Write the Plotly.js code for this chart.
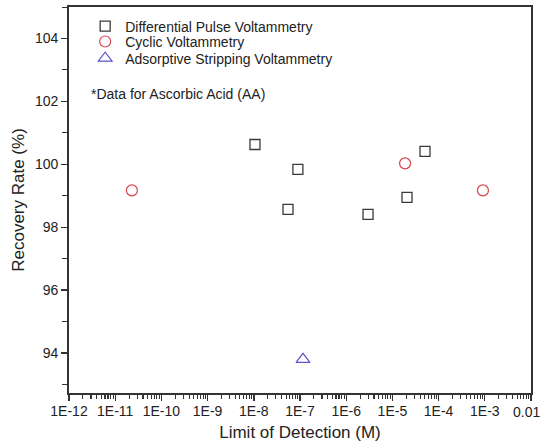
<!DOCTYPE html>
<html>
<head>
<meta charset="utf-8">
<script src="https://cdn.plot.ly/plotly-3.0.1.min.js"></script>
<style>html,body{margin:0;padding:0;background:#fff;}#chart{width:543px;height:442px;}</style>
</head>
<body>
<div id="chart"></div>
<script>
// Differential Pulse Voltammetry
const dpvLOD = [1.06e-8, 9.0e-8, 5.5e-8, 2.97e-6, 2.07e-5, 5.08e-5];
const dpvRecovery = [100.63, 99.84, 98.57, 98.41, 98.95, 100.41];
// Cyclic Voltammetry
const cvLOD = [2.3e-11, 1.88e-5, 9.1e-4];
const cvRecovery = [99.17, 100.03, 99.17];
// Adsorptive Stripping Voltammetry
const asvLOD = [1.16e-7];
const asvRecovery = [93.8];

const xTickVals = [1e-12, 1e-11, 1e-10, 1e-9, 1e-8, 1e-7, 1e-6, 1e-5, 1e-4, 1e-3, 1e-2];
const xTickText = ["1E-12", "1E-11", "1E-10", "1E-9", "1E-8", "1E-7", "1E-6", "1E-5", "1E-4", "1E-3", "0.01"];
const yTickVals = [94, 96, 98, 100, 102, 104];

// all x tick positions: majors plus minor log ticks (2..9 within each decade)
const xAllVals = [];
const xAllText = [];
for (let d = 0; d < xTickVals.length; d++) {
  xAllVals.push(xTickVals[d]);
  xAllText.push(d === xTickVals.length - 1 ? "" : xTickText[d]);
  if (d < xTickVals.length - 1) {
    for (let m = 2; m <= 9; m++) { xAllVals.push(m * xTickVals[d]); xAllText.push(""); }
  }
}

const font = "Liberation Sans, Arial, sans-serif";
const axisColor = "#333";
const textColor = "#222";

const traces = [
  {x: dpvLOD, y: dpvRecovery, mode: "markers", type: "scatter", name: "Differential Pulse Voltammetry",
   legend: "legend",
   marker: {symbol: "square-open", size: 10, color: "#3a3a3a", line: {width: 1.3}}},
  {x: cvLOD, y: cvRecovery, mode: "markers", type: "scatter", name: "Cyclic Voltammetry",
   legend: "legend2",
   marker: {symbol: "circle-open", size: 11, color: "#d8434e", line: {width: 1.2}}},
  {x: asvLOD, y: asvRecovery, mode: "markers", type: "scatter", name: "Adsorptive Stripping Voltammetry",
   legend: "legend3",
   marker: {symbol: "triangle-up-open", size: 12, color: "#5a55c8", line: {width: 1.2}}},
  // invisible trace carrying the major-tick overlay axis
  {x: [1e-12], y: [100], xaxis: "x2", yaxis: "y", mode: "markers", type: "scatter",
   marker: {opacity: 0}, showlegend: false, hoverinfo: "skip"}
];

function legendAt(y) {
  return {x: 0.035, y: y, xanchor: "left", yanchor: "top", bgcolor: "rgba(0,0,0,0)",
          font: {family: font, size: 14, color: textColor}, itemwidth: 30};
}

const layout = {
  width: 543, height: 442,
  margin: {l: 69, r: 12, t: 7, b: 49},
  paper_bgcolor: "#fff", plot_bgcolor: "#fff",
  font: {family: font, size: 14, color: textColor},
  showlegend: true,
  legend: legendAt(0.991),
  legend2: legendAt(0.951),
  legend3: legendAt(0.908),
  xaxis: {
    type: "log", range: [-12, -2],
    tickmode: "array", tickvals: xAllVals, ticktext: xAllText,
    ticks: "outside", ticklen: 4, tickwidth: 1.1, tickcolor: axisColor,
    showline: true, linecolor: axisColor, linewidth: 1.8, mirror: true,
    showgrid: false, zeroline: false,
    tickfont: {family: font, size: 14, color: textColor},
    title: {text: "Limit of Detection (M)", font: {family: font, size: 17, color: textColor}, standoff: 10}
  },
  xaxis2: {
    type: "log", range: [-12, -2], overlaying: "x", anchor: "y", side: "bottom",
    tickmode: "array", tickvals: xTickVals, showticklabels: false,
    ticks: "outside", ticklen: 7, tickwidth: 1.4, tickcolor: axisColor,
    showline: false, showgrid: false, zeroline: false
  },
  yaxis: {
    range: [92.73, 105],
    tickmode: "array", tickvals: yTickVals,
    ticks: "outside", ticklen: 6, tickwidth: 1.3, tickcolor: axisColor,
    minor: {dtick: 1, ticks: "outside", ticklen: 5, tickwidth: 1, tickcolor: axisColor, showgrid: false},
    showline: true, linecolor: axisColor, linewidth: 1.8, mirror: true,
    showgrid: false, zeroline: false,
    tickfont: {family: font, size: 14, color: textColor},
    title: {text: "Recovery Rate (%)", font: {family: font, size: 17, color: textColor}, standoff: 6}
  },
  annotations: [
    {text: "*Data for Ascorbic Acid (AA)", xref: "paper", yref: "paper", x: 0.043, y: 0.775,
     xanchor: "left", yanchor: "middle", showarrow: false, font: {family: font, size: 14, color: textColor}},
    {text: xTickText[xTickText.length - 1], xref: "paper", yref: "paper", x: 1.024, y: -0.05,
     xanchor: "right", yanchor: "middle", showarrow: false, font: {family: font, size: 14, color: textColor}}
  ]
};

Plotly.newPlot("chart", traces, layout, {displayModeBar: false, staticPlot: true});
</script>
</body>
</html>
